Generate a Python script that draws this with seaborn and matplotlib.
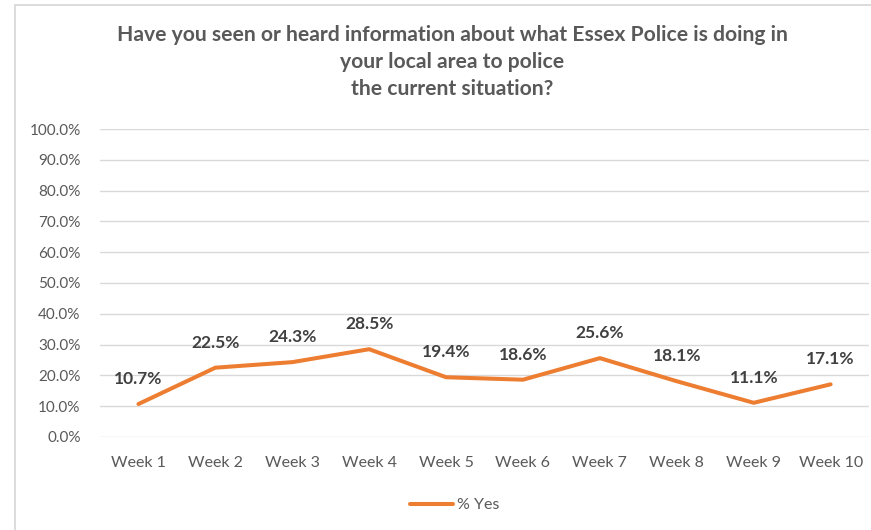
import pandas as pd
import numpy as np
import matplotlib.pyplot as plt
import seaborn as sns
from matplotlib.patches import Rectangle
from matplotlib.ticker import PercentFormatter

# Data
weeks = ['Week 1', 'Week 2', 'Week 3', 'Week 4', 'Week 5',
         'Week 6', 'Week 7', 'Week 8', 'Week 9', 'Week 10']
pct_yes = [10.7, 22.5, 24.3, 28.5, 19.4, 18.6, 25.6, 18.1, 11.1, 17.1]
series_name = '% Yes'
title = ('Have you seen or heard information about what Essex Police is doing in\n'
         'your local area to police\n'
         'the current situation?')

df = pd.DataFrame({'week': weeks, 'value': pct_yes, 'series': series_name})

sns.set_theme(style='white')
plt.rcParams['font.family'] = ['Lato', 'DejaVu Sans']

orange = '#ED7D31'
grey_text = '#595959'
grid_col = '#D9D9D9'

fig = plt.figure(figsize=(8.71, 5.30), dpi=100)
ax = fig.add_axes([0.1148, 0.1755, 0.8830, 0.5811])

sns.lineplot(data=df, x='week', y='value', hue='series', palette=[orange],
             linewidth=2.9, ax=ax, sort=False)

ax.set_ylim(0, 100)
ax.set_xlim(-0.5, len(weeks) - 0.5)
ax.set_yticks(np.arange(0, 101, 10))
ax.yaxis.set_major_formatter(PercentFormatter(decimals=1))
ax.grid(axis='y', color=grid_col, linewidth=1)
ax.set_axisbelow(True)
for s in ax.spines.values():
    s.set_visible(False)
ax.tick_params(axis='y', length=0, labelsize=11, labelcolor=grey_text, pad=14)
ax.tick_params(axis='x', length=0, labelsize=11.5, labelcolor=grey_text, pad=14)
ax.set_xlabel('')
ax.set_ylabel('')

# data labels above points
for i, v in enumerate(pct_yes):
    ax.annotate(f'{v:.1f}%', (i, v), xytext=(0, 18), textcoords='offset points',
                ha='center', va='center', fontsize=12.5, fontweight='bold',
                color='#404040')

ax.get_legend().remove()
handles, labels = ax.get_legend_handles_labels()
fig.legend(handles, labels, loc='center', bbox_to_anchor=(0.522, 0.047),
           frameon=False, fontsize=11.5, handlelength=2.7, handletextpad=0.3,
           labelcolor=grey_text)

fig.text(0.519, 0.883, title, ha='center', va='center', fontsize=15.2,
         fontweight='bold', color=grey_text, linespacing=1.42)

# chart area border (only top and left visible in the crop)
fig.patches.append(Rectangle((14.5 / 871, -0.1), 1.2, 1.1 - 4.5 / 530,
                             transform=fig.transFigure, fill=False,
                             edgecolor=grid_col, linewidth=1.3))

fig.savefig('out.png', dpi=100)
